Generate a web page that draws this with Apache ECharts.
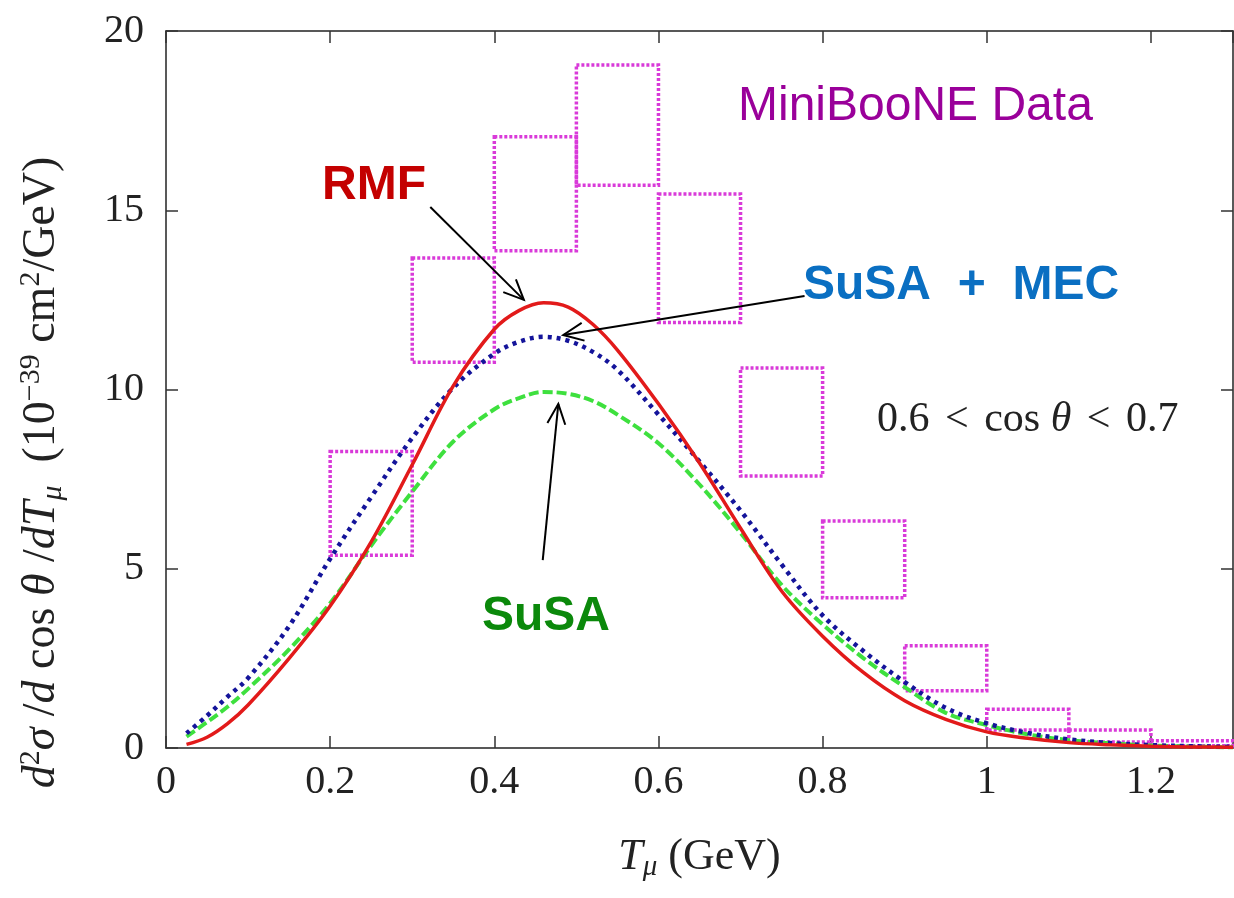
<!DOCTYPE html>
<html>
<head>
<meta charset="utf-8">
<title>MiniBooNE cross section</title>
<script src="https://cdn.jsdelivr.net/npm/echarts@6/dist/echarts.min.js"></script>
<style>
  html, body { margin: 0; padding: 0; background: #fff; }
  #main { width: 1234px; height: 898px; }
</style>
</head>
<body>
<div id="main"></div>
<script>
// T_mu sample points (GeV) for the model curves
var tmu = [0.025, 0.05, 0.075, 0.1, 0.15, 0.2, 0.25, 0.3, 0.35, 0.4, 0.43, 0.46, 0.49, 0.52, 0.55, 0.6, 0.65, 0.7,
           0.75, 0.8, 0.85, 0.9, 0.95, 1.0, 1.05, 1.1, 1.15, 1.2, 1.25, 1.3];
var rmf = [0.10, 0.30, 0.68, 1.2, 2.5, 3.96, 5.75, 7.9, 10.1, 11.68, 12.2, 12.42, 12.3, 11.82, 11.1, 9.6, 7.95, 6.13,
           4.38, 3.12, 2.1, 1.32, 0.8, 0.45, 0.27, 0.15, 0.09, 0.05, 0.03, 0.02];
var susaMec = [0.41, 0.9, 1.43, 1.95, 3.4, 5.28, 7.0, 8.65, 10.05, 11.0, 11.33, 11.47, 11.36, 11.05, 10.55, 9.3, 7.99, 6.62,
               5.12, 3.7, 2.7, 1.84, 1.12, 0.69, 0.42, 0.24, 0.14, 0.08, 0.05, 0.03];
var susa = [0.32, 0.72, 1.15, 1.65, 2.75, 4.04, 5.65, 7.15, 8.55, 9.45, 9.76, 9.93, 9.88, 9.68, 9.3, 8.5, 7.35, 6.0,
            4.55, 3.45, 2.5, 1.7, 0.98, 0.64, 0.38, 0.22, 0.13, 0.07, 0.04, 0.02];

// MiniBooNE data: bin edges and lower/upper error band
var binLo = [0.2, 0.3, 0.4, 0.5, 0.6, 0.7, 0.8, 0.9, 1.0, 1.1, 1.2];
var binHi = [0.3, 0.4, 0.5, 0.6, 0.7, 0.8, 0.9, 1.0, 1.1, 1.2, 1.3];
var dataLo = [5.38, 10.76, 13.87, 15.70, 11.87, 7.59, 4.19, 1.60, 0.50, 0.17, 0.06];
var dataHi = [8.27, 13.67, 17.05, 19.05, 15.45, 10.60, 6.33, 2.85, 1.08, 0.50, 0.20];

// arrows: [x tail, y tail, x head, y head]
var arrows = [
  [0.322, 15.09, 0.436, 12.50],
  [0.778, 12.61, 0.484, 11.52],
  [0.459, 5.24, 0.478, 9.60]
];

var xTicks = [0, 0.2, 0.4, 0.6, 0.8, 1, 1.2];
var yTicks = [0, 5, 10, 15, 20];

function pairs(xs, ys) {
  return xs.map(function (x, i) { return [x, ys[i]]; });
}

var boxData = binLo.map(function (x, i) { return [x, binHi[i], dataLo[i], dataHi[i]]; });

var serif = '"Liberation Serif", "DejaVu Serif", serif';
var sans = '"Liberation Sans", Arial, sans-serif';

var chart = echarts.init(document.getElementById('main'));

function line() { return { show: true, onZero: false, lineStyle: { color: '#222', width: 1.5 } }; }
function tick() { return { show: true, inside: true, length: 12, lineStyle: { color: '#333', width: 1.5 } }; }

var option = {
  backgroundColor: '#fff',
  animation: false,
  grid: { left: 166, right: 1, top: 31, bottom: 150 },
  xAxis: [
    {
      type: 'value', min: 0, max: 1.3, interval: 0.2, position: 'bottom',
      axisLine: line(), axisTick: tick(), splitLine: { show: false },
      axisLabel: {
        margin: 14, color: '#222', fontFamily: serif, fontSize: 40, showMaxLabel: false,
        formatter: function (v) { return xTicks.indexOf(+v.toFixed(1)) >= 0 ? String(+v.toFixed(1)) : ''; }
      },
      name: '{i|T}{sub|μ} (GeV)',
      nameLocation: 'middle', nameGap: 84,
      nameTextStyle: {
        fontFamily: serif, fontSize: 44, color: '#222',
        rich: {
          i: { fontFamily: serif, fontStyle: 'italic', fontSize: 44, lineHeight: 50, verticalAlign: 'middle' },
          sub: { fontFamily: serif, fontStyle: 'italic', fontSize: 29, lineHeight: 24, verticalAlign: 'bottom' }
        }
      }
    },
    {
      type: 'value', min: 0, max: 1.3, interval: 0.2, position: 'top',
      axisLine: line(), axisTick: tick(), splitLine: { show: false },
      axisLabel: { show: false }
    }
  ],
  yAxis: [
    {
      type: 'value', min: 0, max: 20, interval: 5, position: 'left',
      axisLine: line(), axisTick: tick(), splitLine: { show: false },
      axisLabel: {
        margin: 22, color: '#222', fontFamily: serif, fontSize: 40,
        formatter: function (v) { return yTicks.indexOf(v) >= 0 ? String(v) : ''; }
      },
      name: '{i|d}{sup|2}{i|σ}{n| /}{i|d}{n| cos }{i|θ}{n| /}{i|dT}{sub|μ}{n|  (10}{sup|−39}{n| cm}{sup|2}{n|/GeV)}',
      nameLocation: 'middle', nameRotate: 90, nameGap: 98,
      nameTextStyle: {
        fontFamily: serif, fontSize: 46, color: '#222',
        padding: [0, 166, 0, 0],
        rich: {
          n: { fontFamily: serif, fontSize: 46, lineHeight: 52, verticalAlign: 'middle', color: '#222' },
          i: { fontFamily: serif, fontStyle: 'italic', fontSize: 46, lineHeight: 52, verticalAlign: 'middle', color: '#222' },
          sup: { fontFamily: serif, fontSize: 30, lineHeight: 28, verticalAlign: 'top', color: '#222' },
          sub: { fontFamily: serif, fontStyle: 'italic', fontSize: 30, lineHeight: 24, verticalAlign: 'bottom', color: '#222' }
        }
      }
    },
    {
      type: 'value', min: 0, max: 20, interval: 5, position: 'right',
      axisLine: line(), axisTick: tick(), splitLine: { show: false },
      axisLabel: { show: false }
    }
  ],
  series: [
    {
      name: 'MiniBooNE Data',
      type: 'custom',
      data: boxData,
      encode: { x: [0, 1], y: [2, 3] },
      clip: false,
      renderItem: function (params, api) {
        var a = api.coord([api.value(0), api.value(3)]);
        var b = api.coord([api.value(1), api.value(2)]);
        return {
          type: 'rect',
          shape: { x: a[0], y: a[1], width: b[0] - a[0], height: b[1] - a[1] },
          style: { fill: 'none', stroke: '#d93ad9', lineWidth: 3.5, lineDash: [3, 2] }
        };
      }
    },
    {
      name: 'SuSA',
      type: 'line',
      data: pairs(tmu, susa),
      smooth: 0.35,
      showSymbol: false,
      lineStyle: { color: '#3ee03e', width: 4, type: [10, 4] }
    },
    {
      name: 'SuSA + MEC',
      type: 'line',
      data: pairs(tmu, susaMec),
      smooth: 0.35,
      showSymbol: false,
      lineStyle: { color: '#14149a', width: 4.5, type: [4, 5] }
    },
    {
      name: 'RMF',
      type: 'line',
      data: pairs(tmu, rmf),
      smooth: 0.35,
      showSymbol: false,
      lineStyle: { color: '#e21a1a', width: 3.5 }
    },
    {
      name: 'arrows',
      type: 'custom',
      data: arrows,
      encode: { x: [0, 2], y: [1, 3] },
      z: 5,
      renderItem: function (params, api) {
        var t = api.coord([api.value(0), api.value(1)]);
        var h = api.coord([api.value(2), api.value(3)]);
        var ang = Math.atan2(h[1] - t[1], h[0] - t[0]);
        var L = 22, w = 0.42;
        var p1 = [h[0] - L * Math.cos(ang - w), h[1] - L * Math.sin(ang - w)];
        var p2 = [h[0] - L * Math.cos(ang + w), h[1] - L * Math.sin(ang + w)];
        return {
          type: 'group',
          children: [
            { type: 'line', shape: { x1: t[0], y1: t[1], x2: h[0], y2: h[1] }, style: { stroke: '#000', lineWidth: 2 } },
            { type: 'polyline', shape: { points: [p1, h, p2] }, style: { stroke: '#000', lineWidth: 2, fill: null } }
          ]
        };
      }
    }
  ],
  graphic: [
    { type: 'text', left: 738, top: 83, style: { text: 'MiniBooNE Data', font: '48px ' + sans, fill: '#9a009a' } },
    { type: 'text', left: 322, top: 162, style: { text: 'RMF', font: 'bold 48px ' + sans, fill: '#c40000' } },
    { type: 'text', left: 803, top: 262, style: { text: 'SuSA  +  MEC', font: 'bold 48px ' + sans, fill: '#0a6fc2' } },
    { type: 'text', left: 482, top: 593, style: { text: 'SuSA', font: 'bold 48px ' + sans, fill: '#0b890b' } },
    {
      type: 'text', left: 877, top: 399,
      style: {
        text: '{n|0.6 }{lt|<}{n| cos }{i|θ}{n| }{lt|<}{n| 0.7}',
        rich: {
          n: { fontFamily: serif, fontSize: 42, fill: '#222' },
          lt: { fontFamily: serif, fontSize: 42, fill: '#222', padding: [0, 5, 0, 5] },
          i: { fontFamily: serif, fontStyle: 'italic', fontSize: 42, fill: '#222' }
        }
      }
    }
  ]
};

chart.setOption(option);
</script>
</body>
</html>
